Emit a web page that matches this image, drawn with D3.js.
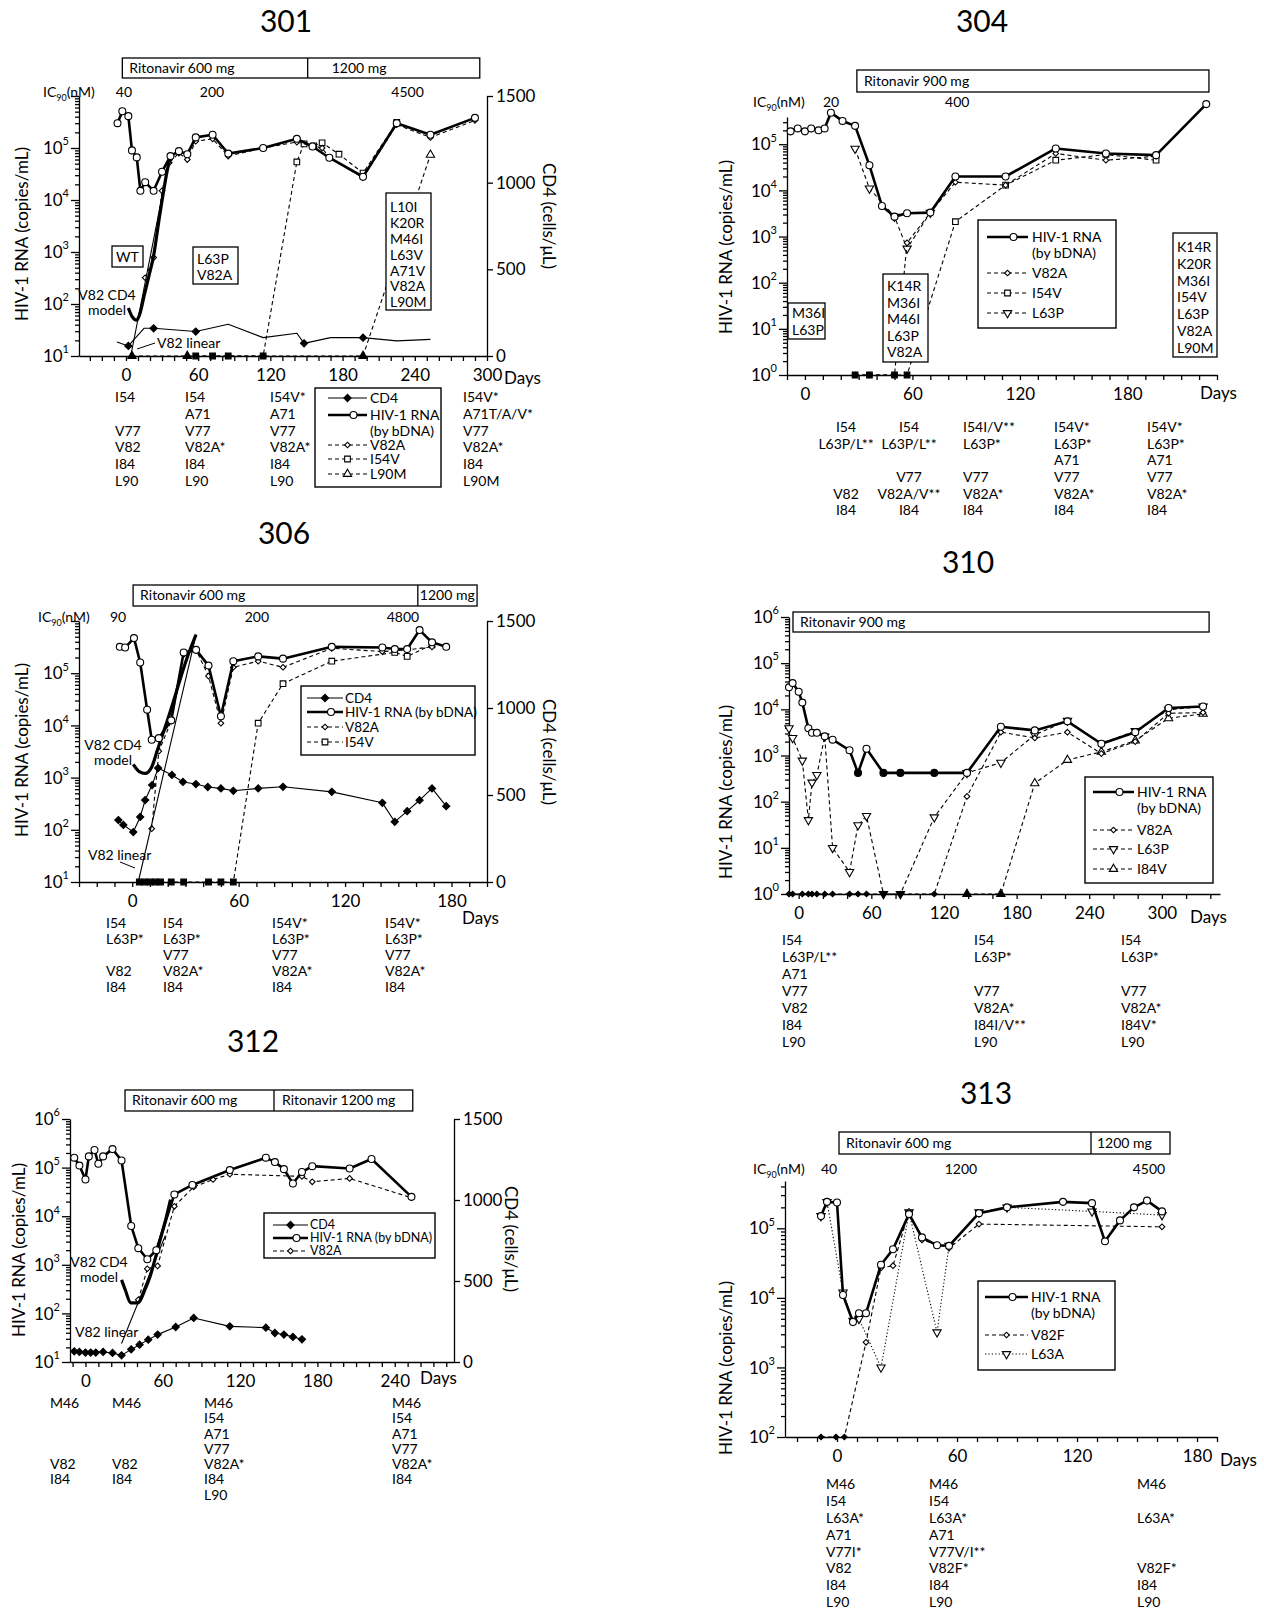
<!DOCTYPE html>
<html>
<head>
<meta charset="utf-8">
<script src="https://cdn.jsdelivr.net/npm/d3@7"></script>
<style>
  body { margin: 0; background: #fff; }
  svg { display: block; font-family: Lato, 'Open Sans', sans-serif; }
</style>
</head>
<body>
<script>
// HIV-1 RNA / CD4 / mutant clone panels, six patients

// ---------- data: patient 301 ----------
const rna301Days = [-7, -3, 2, 5, 9, 12, 16, 23, 30, 37, 44, 51, 58, 72, 85, 114, 142, 155, 169, 197, 225, 253, 290];
const rna301 = [3.0e5, 5.1e5, 4.1e5, 9.0e4, 6.6e4, 1.5e4, 2.2e4, 1.5e4, 3.5e4, 7.0e4, 8.7e4, 7.6e4, 1.6e5, 1.8e5, 7.8e4, 1.0e5, 1.5e5, 1.07e5, 6.5e4, 2.8e4, 3.0e5, 1.8e5, 3.8e5];
const v82a301Days = [16, 23, 30, 36, 44, 51, 58, 72, 85, 114, 142, 163, 169, 197, 225, 253, 290];
const v82a301 = [320, 780, 1.5e4, 5.2e4, 8.0e4, 6.0e4, 1.35e5, 1.5e5, 7.0e4, 1.0e5, 1.3e5, 1.0e5, 6.5e4, 2.7e4, 2.8e5, 1.6e5, 3.4e5];
const i54v301Days = [58, 72, 85, 114, 142, 148, 156, 163, 177, 197, 225];
const i54v301 = [null, null, null, null, 5.4e4, 1.2e5, 1.1e5, 1.26e5, 7.6e4, 3.3e4, 3.1e5];
const l90m301Days = [5, 51, 197, 253];
const l90m301 = [null, null, null, 7.4e4];
const cd4301Days = [-7.5, 2, 15, 23, 58, 85, 114, 142, 148, 170, 197, 225, 253];
const cd4301 = [81, 58, 160, 160, 141, 183, 106, 131, 73, 106, 106, 87, 96];
const cd4301Marked = [0, 1, 0, 1, 1, 0, 0, 0, 1, 0, 1, 0, 0];
const model301Days = [2, 5, 9, 12, 15, 19, 23, 27, 31, 35, 38];
const model301 = [84, 58, 49, 70, 140, 340, 850, 3.5e3, 1.35e4, 4.4e4, 7.4e4];
const linear301Days = [4, 36];
const linear301 = [10, 6.0e4];
const dose301Days = [-3, 151, 294];
const dose301Labels = ['Ritonavir 600 mg', '1200 mg'];
const ic301Days = [-1.7, 71.5, 234];
const ic301Labels = ['40', '200', '4500'];
const mut301 = [
  ['I54', '', 'V77', 'V82', 'I84', 'L90'],
  ['I54', 'A71', 'V77', 'V82A*', 'I84', 'L90'],
  ['I54V*', 'A71', 'V77', 'V82A*', 'I84', 'L90'],
  ['I54V*', 'A71T/A/V*', 'V77', 'V82A*', 'I84', 'L90M']
];

// ---------- data: patient 304 ----------
const rna304Days = [-8, -4, 0, 3.5, 7.6, 11, 14.5, 21, 28, 36, 43, 50, 57, 70, 84, 112, 140, 168, 196, 224];
const rna304 = [1.9e5, 2.2e5, 1.9e5, 2.2e5, 2.0e5, 2.2e5, 4.8e5, 3.2e5, 2.5e5, 3.5e4, 4.6e3, 2.7e3, 3.2e3, 3.3e3, 2.0e4, 2.0e4, 8.1e4, 6.3e4, 5.8e4, 7.4e5];
const v82a304Days = [28, 36, 50, 57, 70, 84, 112, 140, 168, 196];
const v82a304 = [null, null, null, 730, 3.3e3, 1.5e4, 1.3e4, 6.3e4, 4.5e4, 5.5e4];
const i54v304Days = [28, 36, 50, 57, 84, 112, 140, 168, 196];
const i54v304 = [null, null, null, null, 2.1e3, 1.3e4, 4.5e4, 6.0e4, 4.5e4];
const l63p304Days = [28, 36, 50, 57, 70];
const l63p304 = [8.0e4, 1.1e4, 2.7e3, 550, 3.3e3];
const dose304Days = [29, 225.5];
const dose304Labels = ['Ritonavir 900 mg'];
const ic304Days = [14.6, 85];
const ic304Labels = ['20', '400'];
const mut304 = [
  ['I54', 'L63P/L**', '', '', 'V82', 'I84'],
  ['I54', 'L63P/L**', '', 'V77', 'V82A/V**', 'I84'],
  ['I54I/V**', 'L63P*', '', 'V77', 'V82A*', 'I84'],
  ['I54V*', 'L63P*', 'A71', 'V77', 'V82A*', 'I84'],
  ['I54V*', 'L63P*', 'A71', 'V77', 'V82A*', 'I84']
];

// ---------- data: patient 306 ----------
const rna306Days = [-7, -4, 1, 4.5, 8.4, 11, 15, 22, 29, 36, 43, 50, 57, 71, 85, 112.5, 141, 148, 155, 162, 169, 177];
const rna306 = [3.2e5, 3.1e5, 4.7e5, 1.6e5, 2.0e4, 5.3e3, 5.7e3, 1.25e4, 2.5e5, 2.8e5, 1.4e5, 1.5e4, 1.7e5, 2.1e5, 1.9e5, 3.2e5, 3.1e5, 2.9e5, 2.9e5, 6.7e5, 3.9e5, 3.2e5];
const v82a306Days = [11, 15, 22, 29, 36, 43, 50, 57, 71, 85, 112.5, 141, 155, 169];
const v82a306 = [105, 3.2e3, 1.2e4, 2.3e5, 2.8e5, 8.8e4, 1.1e4, 1.3e5, 1.7e5, 1.3e5, 3.0e5, 2.6e5, 2.8e5, 3.2e5];
const i54v306Days = [4, 7, 10, 13, 16, 22, 29, 43, 50, 57, 71, 85, 112.5, 148, 155, 169];
const i54v306 = [null, null, null, null, null, null, null, null, null, null, 1.1e4, 6.3e4, 1.7e5, 2.5e5, 2.1e5, 3.5e5];
const cd4306Days = [-7.8, -5, 0.6, 4.5, 7.3, 11.2, 14.6, 22.4, 28.6, 35.9, 42.6, 50, 57, 71, 85, 112.5, 141, 148, 155, 162, 169, 177];
const cd4306 = [356, 328, 287, 374, 471, 557, 655, 615, 575, 563, 546, 538, 524, 538, 547, 518, 455, 346, 407, 470, 538, 436];
const model306Days = [0.6, 4, 7.3, 11, 14, 17, 20, 24, 27, 31, 36];
const model306 = [1.8e3, 1.3e3, 1.2e3, 1.6e3, 3.2e3, 6.5e3, 1.3e4, 3.5e4, 7.6e4, 2.0e5, 5.5e5];
const linear306Days = [3.4, 36];
const linear306 = [10, 5.5e5];
const dose306Days = [0.5, 161, 194.4];
const dose306Labels = ['Ritonavir 600 mg', '1200 mg'];
const ic306Days = [-8, 70.3, 152.6];
const ic306Labels = ['90', '200', '4800'];
const mut306 = [
  ['I54', 'L63P*', '', 'V82', 'I84'],
  ['I54', 'L63P*', 'V77', 'V82A*', 'I84'],
  ['I54V*', 'L63P*', 'V77', 'V82A*', 'I84'],
  ['I54V*', 'L63P*', 'V77', 'V82A*', 'I84']
];

// ---------- data: patient 310 ----------
const rna310Days = [-8, -5, 0, 3, 8, 11, 15, 21.5, 28, 42, 49, 56, 70, 84, 112, 139, 167, 195, 222, 250, 278, 305.5, 334];
const rna310 = [3.0e4, 3.7e4, 2.4e4, 1.4e4, 3.9e3, 3.1e3, 3.1e3, 2.6e3, 2.2e3, 1.3e3, 420, 1.4e3, 420, 420, 420, 420, 4.2e3, 3.5e3, 5.5e3, 1.8e3, 3.2e3, 1.07e4, 1.15e4];
const rna310Below = [0, 0, 0, 0, 0, 0, 0, 0, 0, 0, 1, 0, 1, 1, 1, 0, 0, 0, 0, 0, 0, 0, 0];
const v82a310Days = [-8, -5, 3, 8, 11, 15, 21.5, 28, 42, 49, 56, 70, 84, 112, 139, 167, 195, 222, 250, 278, 305.5, 334];
const v82a310 = [null, null, null, null, null, null, null, null, null, null, null, null, null, null, 130, 3.2e3, 2.4e3, 3.2e3, 1.1e3, 2.0e3, 8.2e3, 8.5e3];
const l63p310Days = [-8, -5, 3, 8, 11, 15, 21.5, 28, 42, 49, 56, 70, 84, 112, 139, 167, 195, 222, 250, 278, 305.5, 334];
const l63p310 = [3.9e3, 2.4e3, 780, 40, 260, 380, 2.6e3, 10, 3, 31, 49, null, null, 46, 420, 700, 2.8e3, 5.7e3, 1.8e3, 3.4e3, 9.8e3, 1.15e4];
const i84v310Days = [139, 167, 195, 222, 250, 278, 305.5, 334];
const i84v310 = [null, null, 250, 800, 1.2e3, 2.1e3, 6.4e3, 8.0e3];
const dose310Days = [-4.7, 339];
const dose310Labels = ['Ritonavir 900 mg'];
const mut310 = [
  ['I54', 'L63P/L**', 'A71', 'V77', 'V82', 'I84', 'L90'],
  ['I54', 'L63P*', '', 'V77', 'V82A*', 'I84I/V**', 'L90'],
  ['I54', 'L63P*', '', 'V77', 'V82A*', 'I84V*', 'L90']
];

// ---------- data: patient 312 ----------
const rna312Days = [-8.7, -4.7, 0, 2.6, 7, 10, 13.7, 21, 28, 35.5, 41, 48, 55, 69, 83, 112, 140, 147, 154, 161, 168, 176, 205, 222, 253];
const rna312 = [1.6e5, 1.1e5, 5.7e4, 1.7e5, 2.3e5, 1.2e5, 1.7e5, 2.4e5, 1.4e5, 6.3e3, 2.2e3, 1.3e3, 2.0e3, 2.8e4, 4.4e4, 8.9e4, 1.6e5, 1.3e5, 9.3e4, 4.7e4, 8.1e4, 1.07e5, 9.6e4, 1.5e5, 2.5e4];
const v82a312Days = [41, 48, 56, 69, 84, 99, 112, 168, 176, 205, 253];
const v82a312 = [190, 830, 950, 1.6e4, 4.0e4, 5.7e4, 7.3e4, 6.6e4, 5.1e4, 6.0e4, 2.4e4];
const cd4312Days = [-8.7, -4.7, 0, 4, 8, 13.7, 21, 28, 35.5, 42, 48.7, 56, 70, 84, 112, 140, 147, 154, 161, 168];
const cd4312 = [66, 62, 58, 58, 58, 62, 56, 41, 78, 107, 138, 169, 216, 272, 220, 212, 179, 169, 155, 140];
const model312Days = [28, 31, 35, 41, 46, 50, 54, 58, 62, 66];
const model312 = [490, 300, 165, 165, 300, 560, 1.3e3, 3.3e3, 8.0e3, 2.2e4];
const linear312Days = [28, 62];
const linear312 = [24, 4.0e3];
const dose312Days = [30.7, 146.3, 254];
const dose312Labels = ['Ritonavir 600 mg', 'Ritonavir 1200 mg'];
const mut312 = [
  ['M46', '', '', '', 'V82', 'I84'],
  ['M46', '', '', '', 'V82', 'I84'],
  ['M46', 'I54', 'A71', 'V77', 'V82A*', 'I84', 'L90'],
  ['M46', 'I54', 'A71', 'V77', 'V82A*', 'I84']
];

// ---------- data: patient 313 ----------
const rna313Days = [-8, -5, 0, 3, 8, 11, 14.5, 22, 28, 36, 42.5, 50, 56, 71, 85, 113, 127.5, 134, 141.5, 148.5, 155, 162.5];
const rna313 = [1.5e5, 2.4e5, 2.35e5, 1.1e4, 4.5e3, 6.0e3, 6.0e3, 3.0e4, 5.0e4, 1.6e5, 7.4e4, 5.7e4, 5.6e4, 1.65e5, 2.0e5, 2.4e5, 2.3e5, 6.5e4, 1.3e5, 2.0e5, 2.5e5, 1.75e5];
const v82f313Days = [-8, -0.5, 3.7, 14.5, 22, 28, 36, 42.5, 56, 71, 162.5];
const v82f313 = [null, null, null, 2.3e3, 2.7e4, 2.9e4, 1.75e5, 6.8e4, 5.2e4, 1.15e5, 1.05e5];
const l63a313Days = [-8, -5, 3, 8, 11, 22, 36, 50, 56, 71, 85, 127.5, 162.5];
const l63a313 = [1.5e5, 2.4e5, 1.2e4, 4.7e3, 5.0e3, 1.0e3, 1.7e5, 3.2e3, 5.6e4, 1.7e5, 2.0e5, 1.75e5, 1.55e5];
const dose313Days = [1, 127, 166.5];
const dose313Labels = ['Ritonavir 600 mg', '1200 mg'];
const ic313Days = [-4, 62, 156];
const ic313Labels = ['40', '1200', '4500'];
const mut313 = [
  ['M46', 'I54', 'L63A*', 'A71', 'V77I*', 'V82', 'I84', 'L90'],
  ['M46', 'I54', 'L63A*', 'A71', 'V77V/I**', 'V82F*', 'I84', 'L90'],
  ['M46', '', 'L63A*', '', '', 'V82F*', 'I84', 'L90']
];

// ---------- drawing ----------
const svg = d3.select('body').append('svg').attr('width', 1264).attr('height', 1612);
const FONT = "Lato, 'Open Sans', sans-serif";

const STY = {
  rna:  { w: 2.6, shape: 'circle', size: 38 },
  cd4:  { w: 1.1, shape: 'diamond', size: 26, fill: true },
  dia:  { w: 1.1, dash: '4,3', shape: 'diamond', size: 16 },
  sq:   { w: 1.1, dash: '4,3', shape: 'square', size: 32 },
  up:   { w: 1.1, dash: '4,3', shape: 'triUp', size: 30 },
  down: { w: 1.1, dash: '4,3', shape: 'triDown', size: 30 },
  dotDown: { w: 1.1, dash: '1.2,2.2', shape: 'triDown', size: 30 },
  model: { w: 3.2, curve: d3.curveMonotoneX },
  linear: { w: 1.1 }
};
// diamonds are squares turned by 45 degrees
const SHAPES = { circle: d3.symbolCircle, diamond: d3.symbolSquare, square: d3.symbolSquare, triUp: d3.symbolTriangle, triDown: d3.symbolTriangle };
const TURN = { diamond: ' rotate(45)', triDown: ' rotate(180)' };

function markers(g, pts, st, fx, fy, filledFn) {
  g.selectAll(null).data(pts).join('path')
    .attr('d', d3.symbol().type(SHAPES[st.shape]).size(st.size))
    .attr('transform', d => `translate(${fx(d)},${fy(d)})` + (TURN[st.shape] || ''))
    .attr('fill', d => (st.fill || filledFn(d)) ? '#000' : '#fff')
    .attr('stroke', '#000').attr('stroke-width', 1.1);
}

function makePanel(c) {
  const g = svg.append('g');
  const x = d3.scaleLinear().domain(c.xDom).range([c.left, c.right]);
  const y = d3.scaleLog().domain(c.yDom).range([c.bottom, c.top]);
  const p = { g, x, y, c };
  if (c.cd4) p.yR = d3.scaleLinear().domain([0, 1500]).range([c.bottom, c.top]);

  g.append('text').attr('x', c.title[1]).attr('y', c.title[2]).attr('dy', '0.35em')
    .attr('text-anchor', 'middle').attr('font-size', 30).text(c.title[0]);

  // log y axis: minor and decade ticks
  const lo = Math.round(Math.log10(c.yDom[0])), hi = Math.ceil(Math.log10(c.yDom[1]) - 1e-9);
  const minor = [], major = [];
  for (let k = lo; k <= hi; k++) {
    for (let m = 1; m < 10; m++) {
      const v = m * Math.pow(10, k);
      if (v <= c.yDom[1] * 1.0001) (m === 1 ? major : minor).push(v);
    }
  }
  g.append('g').attr('transform', `translate(${c.left},0)`)
    .call(d3.axisLeft(y).tickValues(minor).tickSize(4).tickSizeOuter(0).tickFormat(''));
  g.append('g').attr('transform', `translate(${c.left},0)`)
    .call(d3.axisLeft(y).tickValues(major).tickSize(8).tickSizeOuter(0).tickFormat(''))
    .select('.domain').remove();
  g.append('g').attr('font-size', 17).attr('text-anchor', 'end')
    .selectAll('text').data(c.yLab).join('text')
    .attr('x', c.left - 10).attr('y', k => y(Math.pow(10, k))).attr('dy', '0.36em')
    .each(function (k) {
      const t = d3.select(this);
      t.append('tspan').text('10');
      t.append('tspan').attr('font-size', 11).attr('dy', '-0.8em').text(k);
    });

  // day axis
  const xt = d3.range(Math.ceil(c.xDom[0] / c.step) * c.step, c.xDom[1] + 1e-6, c.step);
  g.append('g').attr('transform', `translate(0,${c.bottom})`)
    .call(d3.axisBottom(x).tickValues(xt).tickSize(5).tickSizeOuter(0).tickPadding(8)
      .tickFormat(d => (d % 60 === 0 ? d : '')));
  g.append('text').attr('x', c.days[0]).attr('y', c.days[1]).attr('dy', '0.35em')
    .attr('font-size', 17).text('Days');

  if (c.cd4) {
    g.append('g').attr('transform', `translate(${c.right},0)`)
      .call(d3.axisRight(p.yR).tickValues([0, 500, 1000, 1500]).tickSize(6).tickSizeOuter(0)
        .tickPadding(3).tickFormat(d3.format('d')));
    g.append('text').attr('transform', `translate(${c.cd4Lab[0]},${c.cd4Lab[1]}) rotate(90)`)
      .attr('text-anchor', 'middle').attr('dy', '0.35em').attr('font-size', 17).text('CD4 (cells/μL)');
  }
  g.selectAll('.tick text').attr('font-size', 17).attr('font-family', FONT);
  g.selectAll('.domain, .tick line').attr('stroke', '#000').attr('stroke-width', 1.3);
  g.selectAll('g').filter(function () { return this.getAttribute('font-family') === 'sans-serif'; })
    .attr('font-family', FONT);

  g.append('text').attr('transform', `translate(${c.yLabPos[0]},${c.yLabPos[1]}) rotate(-90)`)
    .attr('text-anchor', 'middle').attr('dy', '0.35em').attr('font-size', 17).text('HIV-1 RNA (copies/mL)');
  return p;
}

function series(p, days, vals, key, opts = {}) {
  const st = STY[key];
  const ys = opts.right ? p.yR : p.y;
  const floor = p.y.domain()[0];
  const pts = d3.zip(days, vals).map(([d, v], i) => ({ d, v, i, nd: v == null }));
  const fy = q => (q.nd ? p.y(floor) : ys(q.v));
  const line = d3.line().x(q => p.x(q.d)).y(fy);
  if (st.curve) line.curve(st.curve);
  p.g.append('path').datum(pts).attr('d', line).attr('fill', 'none')
    .attr('stroke', '#000').attr('stroke-width', st.w)
    .attr('stroke-dasharray', st.dash || null).attr('stroke-linejoin', 'round');
  if (st.shape) {
    const m = opts.mark ? pts.filter(q => opts.mark[q.i]) : pts;
    markers(p.g, m, st, q => p.x(q.d), fy, q => q.nd || (opts.filled && opts.filled[q.i]));
  }
}

function doseBar(p, days, labels, y0, y1, pads) {
  const xs = days.map(p.x);
  const g = p.g.append('g');
  g.append('rect').attr('x', xs[0]).attr('y', y0).attr('width', xs[xs.length - 1] - xs[0])
    .attr('height', y1 - y0).attr('fill', '#fff').attr('stroke', '#000').attr('stroke-width', 1.3);
  xs.slice(1, -1).forEach(xx => g.append('line').attr('x1', xx).attr('x2', xx).attr('y1', y0).attr('y2', y1)
    .attr('stroke', '#000').attr('stroke-width', 1.3));
  labels.forEach((t, i) => g.append('text').attr('x', xs[i] + pads[i]).attr('y', (y0 + y1) / 2)
    .attr('dy', '0.35em').attr('font-size', 14).text(t));
}

function ic90(p, x0, yc, days, labels) {
  const t = p.g.append('text').attr('x', x0).attr('y', yc).attr('dy', '0.35em').attr('font-size', 14);
  t.append('tspan').text('IC');
  t.append('tspan').attr('font-size', 9).attr('dy', 4).text('90');
  t.append('tspan').attr('dy', -4).text('(nM)');
  p.g.selectAll(null).data(labels).join('text')
    .attr('x', (d, i) => p.x(days[i])).attr('y', yc).attr('dy', '0.35em')
    .attr('text-anchor', 'middle').attr('font-size', 14).text(d => d);
}

function mutations(p, cols, xs, anchors, y0, dy) {
  cols.forEach((col, ci) => {
    p.g.append('g').attr('font-size', 14).attr('text-anchor', anchors[ci])
      .selectAll('text').data(col).join('text')
      .attr('x', xs[ci]).attr('y', (d, i) => y0 + i * dy).attr('dy', '0.35em').text(d => d);
  });
}

function legend(p, L) {
  const g = p.g.append('g');
  const fs = L.fs || 14;
  g.append('rect').attr('x', L.box[0]).attr('y', L.box[1])
    .attr('width', L.box[2] - L.box[0]).attr('height', L.box[3] - L.box[1])
    .attr('fill', '#fff').attr('stroke', '#000').attr('stroke-width', 1.4);
  L.items.forEach(it => {
    const st = STY[it.st];
    g.append('line').attr('x1', L.sx[0]).attr('x2', L.sx[1]).attr('y1', it.y).attr('y2', it.y)
      .attr('stroke', '#000').attr('stroke-width', st.w).attr('stroke-dasharray', st.dash || null);
    markers(g, [0], st, () => (L.sx[0] + L.sx[1]) / 2 + (it.st === 'rna' ? 6 : 0), () => it.y, () => false);
    it.text.forEach((t, j) => g.append('text').attr('x', L.tx).attr('y', it.y + j * 16)
      .attr('dy', '0.35em').attr('font-size', fs).text(t));
  });
}

function noteBox(p, b) {
  const g = p.g.append('g');
  g.append('rect').attr('x', b.box[0]).attr('y', b.box[1])
    .attr('width', b.box[2] - b.box[0]).attr('height', b.box[3] - b.box[1])
    .attr('fill', '#fff').attr('stroke', '#000').attr('stroke-width', 1.3);
  g.selectAll(null).data(b.lines).join('text')
    .attr('x', b.center ? (b.box[0] + b.box[2]) / 2 : b.box[0] + 4)
    .attr('text-anchor', b.center ? 'middle' : 'start')
    .attr('y', (d, i) => b.ly + i * b.lh).attr('dy', '0.35em').attr('font-size', 14).text(d => d);
}

function note(p, lines, x, y, anchor, leader) {
  p.g.selectAll(null).data(lines).join('text').attr('x', x).attr('y', (d, i) => y + i * 15)
    .attr('dy', '0.35em').attr('text-anchor', anchor).attr('font-size', 14).text(d => d);
  if (leader) p.g.append('line').attr('x1', leader[0]).attr('y1', leader[1]).attr('x2', leader[2]).attr('y2', leader[3])
    .attr('stroke', '#000').attr('stroke-width', 1);
}

// ---------- panel 301 ----------
const p1 = makePanel({ title: ['301', 286, 21], left: 79, right: 487, top: 96, bottom: 356, xDom: [-39, 300],
  yDom: [10, 1e6], yLab: [1, 2, 3, 4, 5], step: 10, cd4: true, cd4Lab: [549, 216], days: [504, 378], yLabPos: [22, 234] });
doseBar(p1, dose301Days, dose301Labels, 58, 78, [7, 24]);
ic90(p1, 43, 92, ic301Days, ic301Labels);
series(p1, cd4301Days, cd4301, 'cd4', { right: true, mark: cd4301Marked });
series(p1, l90m301Days, l90m301, 'up');
series(p1, i54v301Days, i54v301, 'sq');
series(p1, v82a301Days, v82a301, 'dia');
series(p1, linear301Days, linear301, 'linear');
series(p1, model301Days, model301, 'model');
series(p1, rna301Days, rna301, 'rna');
noteBox(p1, { box: [112, 246, 143, 267], lines: ['WT'], ly: 257, lh: 16, center: true });
noteBox(p1, { box: [193, 247, 238, 284], lines: ['L63P', 'V82A'], ly: 259, lh: 16 });
noteBox(p1, { box: [386, 193, 431, 310], lines: ['L10I', 'K20R', 'M46I', 'L63V', 'A71V', 'V82A', 'L90M'], ly: 207, lh: 15.9 });
note(p1, ['V82 CD4', 'model'], 107, 295, 'middle');
note(p1, ['V82 linear'], 157, 343, 'start', [137, 349, 155, 343]);
legend(p1, { box: [315, 388, 441, 487], sx: [328, 367], tx: 370, items: [
  { y: 398, st: 'cd4', text: ['CD4'] },
  { y: 415, st: 'rna', text: ['HIV-1 RNA', '(by bDNA)'] },
  { y: 445, st: 'dia', text: ['V82A'] },
  { y: 459, st: 'sq', text: ['I54V'] },
  { y: 474, st: 'up', text: ['L90M'] }] });
mutations(p1, mut301, [115, 185, 270, 463], ['start', 'start', 'start', 'start'], 397, 16.8);

// ---------- panel 304 ----------
const p2 = makePanel({ title: ['304', 982, 21], left: 787, right: 1217, top: 117, bottom: 375, xDom: [-10, 230],
  yDom: [1, Math.pow(10, 5.59)], yLab: [0, 1, 2, 3, 4, 5], step: 10, days: [1200, 393], yLabPos: [726, 247] });
doseBar(p2, dose304Days, dose304Labels, 70, 92, [7]);
ic90(p2, 753, 102, ic304Days, ic304Labels);
series(p2, l63p304Days, l63p304, 'down');
series(p2, i54v304Days, i54v304, 'sq');
series(p2, v82a304Days, v82a304, 'dia');
series(p2, rna304Days, rna304, 'rna');
noteBox(p2, { box: [788, 303, 825, 339], lines: ['M36I', 'L63P'], ly: 313, lh: 17 });
noteBox(p2, { box: [883, 274, 928, 362], lines: ['K14R', 'M36I', 'M46I', 'L63P', 'V82A'], ly: 286, lh: 16.6 });
noteBox(p2, { box: [1173, 233, 1217, 357], lines: ['K14R', 'K20R', 'M36I', 'I54V', 'L63P', 'V82A', 'L90M'], ly: 247, lh: 16.8 });
legend(p2, { box: [978, 220, 1116, 328], sx: [987, 1028], tx: 1032, items: [
  { y: 237, st: 'rna', text: ['HIV-1 RNA', '(by bDNA)'] },
  { y: 273, st: 'dia', text: ['V82A'] },
  { y: 293, st: 'sq', text: ['I54V'] },
  { y: 313, st: 'down', text: ['L63P'] }] });
mutations(p2, mut304, [846, 909, 963, 1054, 1147], ['middle', 'middle', 'start', 'start', 'start'], 427, 16.7);

// ---------- panel 306 ----------
const p3 = makePanel({ title: ['306', 284, 533], left: 79, right: 487, top: 621, bottom: 882, xDom: [-30, 200],
  yDom: [10, 1e6], yLab: [1, 2, 3, 4, 5], step: 10, cd4: true, cd4Lab: [549, 752], days: [462, 918], yLabPos: [22, 750] });
doseBar(p3, dose306Days, dose306Labels, 585, 606, [7, 2]);
ic90(p3, 38, 617, ic306Days, ic306Labels);
series(p3, cd4306Days, cd4306, 'cd4', { right: true });
series(p3, i54v306Days, i54v306, 'sq');
series(p3, v82a306Days, v82a306, 'dia');
series(p3, linear306Days, linear306, 'linear');
series(p3, model306Days, model306, 'model');
series(p3, rna306Days, rna306, 'rna');
note(p3, ['V82 CD4', 'model'], 113, 745, 'middle');
note(p3, ['V82 linear'], 88, 855, 'start', [120, 862, 135, 868]);
legend(p3, { box: [301, 686, 475, 755], sx: [307, 343], tx: 345, fs: 13.5, items: [
  { y: 698, st: 'cd4', text: ['CD4'] },
  { y: 712, st: 'rna', text: ['HIV-1 RNA (by bDNA)'] },
  { y: 727, st: 'dia', text: ['V82A'] },
  { y: 742, st: 'sq', text: ['I54V'] }] });
mutations(p3, mut306, [106, 163, 272, 385], ['start', 'start', 'start', 'start'], 923, 16);

// ---------- panel 310 ----------
const p4 = makePanel({ title: ['310', 968, 562], left: 789, right: 1220, top: 617, bottom: 894, xDom: [-8, 348],
  yDom: [1, 1e6], yLab: [0, 1, 2, 3, 4, 5, 6], step: 20, days: [1190, 917], yLabPos: [726, 792] });
doseBar(p4, dose310Days, dose310Labels, 612, 632, [7]);
series(p4, i84v310Days, i84v310, 'up');
series(p4, l63p310Days, l63p310, 'down');
series(p4, v82a310Days, v82a310, 'dia');
series(p4, rna310Days, rna310, 'rna', { filled: rna310Below });
legend(p4, { box: [1085, 777, 1213, 883], sx: [1093, 1134], tx: 1137, items: [
  { y: 792, st: 'rna', text: ['HIV-1 RNA', '(by bDNA)'] },
  { y: 830, st: 'dia', text: ['V82A'] },
  { y: 849, st: 'down', text: ['L63P'] },
  { y: 869, st: 'up', text: ['I84V'] }] });
mutations(p4, mut310, [782, 974, 1121], ['start', 'start', 'start'], 940, 17);

// ---------- panel 312 ----------
const p5 = makePanel({ title: ['312', 253, 1041], left: 70, right: 454, top: 1119, bottom: 1362, xDom: [-12, 286],
  yDom: [10, 1e6], yLab: [1, 2, 3, 4, 5, 6], step: 10, cd4: true, cd4Lab: [511, 1239], days: [420, 1378], yLabPos: [19, 1250] });
doseBar(p5, dose312Days, dose312Labels, 1090, 1111, [7, 8]);
series(p5, cd4312Days, cd4312, 'cd4', { right: true });
series(p5, v82a312Days, v82a312, 'dia');
series(p5, linear312Days, linear312, 'linear');
series(p5, model312Days, model312, 'model');
series(p5, rna312Days, rna312, 'rna');
note(p5, ['V82 CD4', 'model'], 99, 1262, 'middle');
note(p5, ['V82 linear'], 75, 1332, 'start');
legend(p5, { box: [264, 1213, 435, 1258], sx: [273, 308], tx: 310, fs: 12.5, items: [
  { y: 1225, st: 'cd4', text: ['CD4'] },
  { y: 1238, st: 'rna', text: ['HIV-1 RNA (by bDNA)'] },
  { y: 1251, st: 'dia', text: ['V82A'] }] });
mutations(p5, mut312, [50, 112, 204, 392], ['start', 'start', 'start', 'start'], 1403, 15.3);

// ---------- panel 313 ----------
const p6 = makePanel({ title: ['313', 986, 1093], left: 785, right: 1217, top: 1181, bottom: 1437, xDom: [-26, 190],
  yDom: [100, Math.pow(10, 5.68)], yLab: [2, 3, 4, 5], step: 10, days: [1220, 1460], yLabPos: [726, 1368] });
doseBar(p6, dose313Days, dose313Labels, 1132, 1154, [7, 6]);
ic90(p6, 753, 1169, ic313Days, ic313Labels);
series(p6, l63a313Days, l63a313, 'dotDown');
series(p6, v82f313Days, v82f313, 'dia');
series(p6, rna313Days, rna313, 'rna');
legend(p6, { box: [978, 1281, 1115, 1370], sx: [985, 1028], tx: 1031, items: [
  { y: 1297, st: 'rna', text: ['HIV-1 RNA', '(by bDNA)'] },
  { y: 1335, st: 'dia', text: ['V82F'] },
  { y: 1354, st: 'dotDown', text: ['L63A'] }] });
mutations(p6, mut313, [826, 929, 1137], ['start', 'start', 'start'], 1484, 16.9);
</script>
</body>
</html>
